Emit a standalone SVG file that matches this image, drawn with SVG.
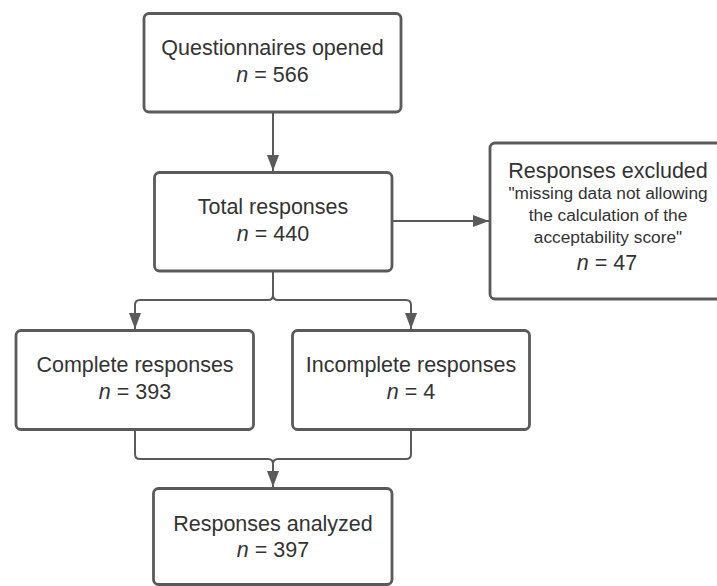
<svg xmlns="http://www.w3.org/2000/svg" width="717" height="586" viewBox="0 0 717 586">
  <style>
    .box { fill: #ffffff; stroke: #5a5a5a; stroke-width: 2.8; }
    .t { font-family: "Liberation Sans", Arial, sans-serif; font-size: 21.5px; fill: #333333; text-anchor: middle; }
    .s { font-family: "Liberation Sans", Arial, sans-serif; font-size: 17.3px; fill: #333333; text-anchor: middle; }
    .i { font-style: italic; }
    .c { fill: none; stroke: #5a5a5a; stroke-width: 2; }
  </style>
  <defs>
    <marker id="ah" viewBox="0 0 16 12" refX="16" refY="6" markerWidth="16" markerHeight="12" markerUnits="userSpaceOnUse" orient="auto">
      <path d="M0,0 L16,6 L0,12 z" fill="#5a5a5a"/>
    </marker>
  </defs>
  <rect width="717" height="586" fill="#ffffff"/>

  <g id="connectors">
    <path class="c" d="M273,112 V171" marker-end="url(#ah)"/>
    <path class="c" d="M392,221 H489" marker-end="url(#ah)"/>
    <path class="c" d="M273,271 V295 Q273,300 268,300 H140 Q135,300 135,305 V329" marker-end="url(#ah)"/>
    <path class="c" d="M273,271 V295 Q273,300 278,300 H406 Q411,300 411,305 V329" marker-end="url(#ah)"/>
    <path class="c" d="M135,430 V454 Q135,459 140,459 H268 Q273,459 273,464 V487" marker-end="url(#ah)"/>
    <path class="c" d="M411,430 V454 Q411,459 406,459 H278 Q273,459 273,464"/>
  </g>

  <g id="opened">
    <rect class="box" x="144" y="13.5" width="257" height="98.5" rx="5"/>
    <text class="t" x="272.5" y="55">Questionnaires opened</text>
    <text class="t" x="272.5" y="82"><tspan class="i">n</tspan> = 566</text>
  </g>

  <g id="total">
    <rect class="box" x="154.5" y="172.5" width="237.5" height="98.5" rx="5"/>
    <text class="t" x="273" y="214">Total responses</text>
    <text class="t" x="273" y="241"><tspan class="i">n</tspan> = 440</text>
  </g>

  <g id="excluded">
    <rect class="box" x="490" y="143" width="240" height="156" rx="5"/>
    <text class="t" x="608" y="177.5">Responses excluded</text>
    <text class="s" x="608" y="199">"missing data not allowing</text>
    <text class="s" x="608" y="221">the calculation of the</text>
    <text class="s" x="608" y="243">acceptability score"</text>
    <text class="t" x="607" y="270"><tspan class="i">n</tspan> = 47</text>
  </g>

  <g id="complete">
    <rect class="box" x="16" y="330.5" width="237.5" height="99" rx="5"/>
    <text class="t" x="135" y="371.5">Complete responses</text>
    <text class="t" x="135" y="398.5"><tspan class="i">n</tspan> = 393</text>
  </g>

  <g id="incomplete">
    <rect class="box" x="292.5" y="330.5" width="237" height="99" rx="5"/>
    <text class="t" x="411" y="371.5">Incomplete responses</text>
    <text class="t" x="411" y="398.5"><tspan class="i">n</tspan> = 4</text>
  </g>

  <g id="analyzed">
    <rect class="box" x="153.5" y="488.5" width="238.5" height="96" rx="5"/>
    <text class="t" x="273" y="530.5">Responses analyzed</text>
    <text class="t" x="273" y="557"><tspan class="i">n</tspan> = 397</text>
  </g>
</svg>
